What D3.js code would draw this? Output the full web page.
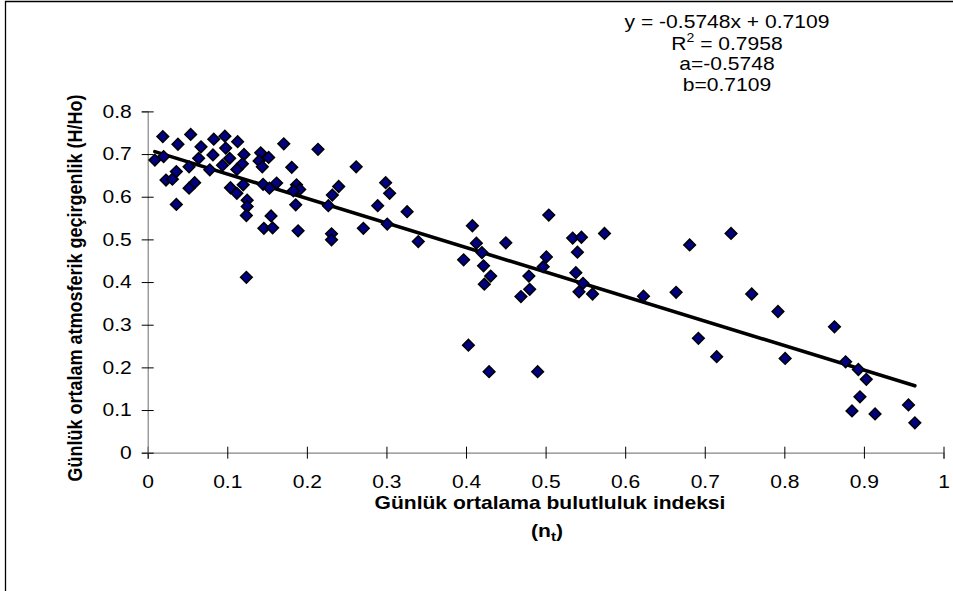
<!DOCTYPE html>
<html>
  <head>
    <meta charset="UTF-8">
    <script src="https://d3js.org/d3.v7.min.js"></script>
    <style>
        body {
            margin: 0;
            background: #fff;
        }
        svg {
            display: block;
        }
        text {
            font-family: "Liberation Sans", Arial, sans-serif;
            fill: #000;
        }
        .tickLabel, .note {
            font-size: 18px;
        }
        .axisTitle {
            font-size: 18px;
            font-weight: bold;
        }
    </style>
  </head>
  <body>
    <script>
        // nt (cloudiness index) and H/Ho (transmittance)
        const cloudIndex = [
            0.019, 0.054, 0.038, 0.067, 0.083, 0.097, 0.113, 0.098, 0.171, 0.214,
            0.009, 0.020, 0.064, 0.082, 0.052, 0.078, 0.094, 0.103, 0.121, 0.119,
            0.112, 0.142, 0.152, 0.140, 0.144, 0.181, 0.023, 0.031, 0.036, 0.059,
            0.052, 0.104, 0.112, 0.120, 0.145, 0.162, 0.153, 0.187, 0.191, 0.183,
            0.036, 0.125, 0.125, 0.124, 0.155, 0.146, 0.157, 0.189, 0.186, 0.227,
            0.232, 0.240, 0.231, 0.231, 0.124, 0.262, 0.271, 0.299, 0.304, 0.289,
            0.326, 0.301, 0.340, 0.408, 0.413, 0.420, 0.397, 0.422, 0.431, 0.423,
            0.450, 0.479, 0.480, 0.469, 0.501, 0.497, 0.504, 0.403, 0.429, 0.490,
            0.534, 0.545, 0.574, 0.540, 0.538, 0.547, 0.542, 0.559, 0.623, 0.664,
            0.681, 0.733, 0.759, 0.792, 0.692, 0.863, 0.715, 0.801, 0.877, 0.893,
            0.903, 0.895, 0.885, 0.914, 0.956, 0.964
        ]
        const transmittance = [
            0.741, 0.746, 0.723, 0.717, 0.735, 0.742, 0.729, 0.714, 0.724, 0.711,
            0.686, 0.694, 0.690, 0.698, 0.670, 0.663, 0.674, 0.690, 0.699, 0.677,
            0.664, 0.703, 0.692, 0.684, 0.670, 0.669, 0.639, 0.641, 0.659, 0.633,
            0.620, 0.621, 0.608, 0.628, 0.629, 0.632, 0.620, 0.628, 0.617, 0.614,
            0.582, 0.592, 0.577, 0.556, 0.555, 0.526, 0.527, 0.520, 0.581, 0.579,
            0.604, 0.624, 0.513, 0.499, 0.411, 0.670, 0.526, 0.633, 0.608, 0.579,
            0.565, 0.536, 0.495, 0.532, 0.491, 0.469, 0.452, 0.438, 0.414, 0.395,
            0.492, 0.414, 0.383, 0.366, 0.459, 0.436, 0.557, 0.252, 0.190, 0.190,
            0.503, 0.505, 0.514, 0.470, 0.422, 0.397, 0.377, 0.372, 0.367, 0.376,
            0.487, 0.514, 0.372, 0.331, 0.268, 0.295, 0.225, 0.221, 0.213, 0.195,
            0.172, 0.131, 0.098, 0.091, 0.112, 0.070
        ]

        const xTicks = [0, 0.1, 0.2, 0.3, 0.4, 0.5, 0.6, 0.7, 0.8, 0.9, 1]
        const yTicks = [0, 0.1, 0.2, 0.3, 0.4, 0.5, 0.6, 0.7, 0.8]

        // linear trendline as printed on the chart
        const trendSlope = -0.5748
        const trendIntercept = 0.7109
        const noteLines = ['y = -0.5748x + 0.7109', 'R2 = 0.7958', 'a=-0.5748', 'b=0.7109']

        const stretch = 1.17   // the original picture is a bit wide-set

        let svgWidth = 953, svgHeight = 591
        let plotLeft = 147.7, plotRight = 943.5, plotTop = 111.4, plotBottom = 452.7

        let x = d3.scaleLinear().domain([0, 1]).range([plotLeft, plotRight])
        let y = d3.scaleLinear().domain([0, 0.8]).range([plotBottom, plotTop])

        let svg = d3.select('body')
            .append('svg')
            .attr('width', svgWidth)
            .attr('height', svgHeight)

        // chart frame (only left and top edges are inside the picture)
        svg.append('path')
            .attr('d', `M5.5,${svgHeight} V1.5 H${svgWidth}`)
            .attr('fill', 'none')
            .attr('stroke', '#000')
            .attr('stroke-width', 1.3)

        let xAxis = svg.append('g')
            .attr('transform', `translate(0, ${plotBottom})`)
            .call(d3.axisBottom(x).tickValues(xTicks).tickSizeOuter(0).tickSize(6).tickPadding(16.5).tickFormat(d => String(d)))

        let yAxis = svg.append('g')
            .attr('transform', `translate(${plotLeft}, 0)`)
            .call(d3.axisLeft(y).tickValues(yTicks).tickSizeOuter(0).tickSize(6).tickPadding(10).tickFormat(d => String(d)))

        // ticks cross the axis line
        xAxis.selectAll('.tick line').attr('y1', -6).attr('y2', 6).attr('stroke', '#000')
        yAxis.selectAll('.tick line').attr('x1', -6).attr('x2', 6).attr('stroke', '#000')
        svg.selectAll('.domain').attr('stroke', '#858585').attr('stroke-width', 1.2)

        xAxis.selectAll('.tick text')
            .attr('class', 'tickLabel')
            .attr('transform', `scale(${stretch}, 1)`)
        yAxis.selectAll('.tick text')
            .attr('class', 'tickLabel')
            .attr('x', -16 / stretch)
            .attr('transform', `scale(${stretch}, 1)`)
        svg.selectAll('g').attr('font-size', null).attr('font-family', null)

        // trendline over the range of the data
        let xExtent = d3.extent(cloudIndex)
        svg.append('line')
            .attr('x1', x(xExtent[0]))
            .attr('y1', y(trendIntercept + trendSlope * xExtent[0]))
            .attr('x2', x(xExtent[1]))
            .attr('y2', y(trendIntercept + trendSlope * xExtent[1]))
            .attr('stroke', '#000')
            .attr('stroke-width', 3.6)
            .attr('stroke-linecap', 'round')

        let diamond = d3.symbol().type(d3.symbolSquare).size(68)

        svg.append('g')
            .selectAll('path')
            .data(cloudIndex)
            .enter()
            .append('path')
            .attr('d', diamond)
            .attr('transform', (d, i) => `translate(${x(d)}, ${y(transmittance[i])}) rotate(45)`)
            .attr('fill', '#000080')
            .attr('stroke', '#000')
            .attr('stroke-width', 1.5)

        // axis titles
        svg.append('text')
            .attr('class', 'axisTitle')
            .attr('text-anchor', 'middle')
            .attr('transform', `translate(550, 509) scale(${stretch}, 1)`)
            .text('Günlük ortalama bulutluluk indeksi')

        let nt = svg.append('text')
            .attr('class', 'axisTitle')
            .attr('text-anchor', 'middle')
            .attr('transform', `translate(547, 537) scale(${stretch}, 1)`)
        nt.append('tspan').text('(n')
        nt.append('tspan').attr('font-size', 13).attr('dy', 4).text('t')
        nt.append('tspan').attr('dy', -4).text(')')

        svg.append('text')
            .attr('class', 'axisTitle')
            .attr('text-anchor', 'middle')
            .attr('transform', `translate(82, 288) rotate(-90) scale(1, ${stretch})`)
            .text('Günlük ortalam atmosferik geçirgenlik (H/Ho)')

        // equation box
        let noteBase = [28, 49.5, 70, 90.5]
        noteLines.forEach((line, i) => {
            let t = svg.append('text')
                .attr('class', 'note')
                .attr('text-anchor', 'middle')
                .attr('transform', `translate(727, ${noteBase[i]}) scale(${stretch}, 1)`)
            if (line.startsWith('R2')) {
                t.append('tspan').text('R')
                t.append('tspan').attr('font-size', 12).attr('dy', -8).text('2')
                t.append('tspan').attr('dy', 8).text(line.slice(2))
            } else {
                t.text(line)
            }
        })
    </script>
  </body>
</html>
